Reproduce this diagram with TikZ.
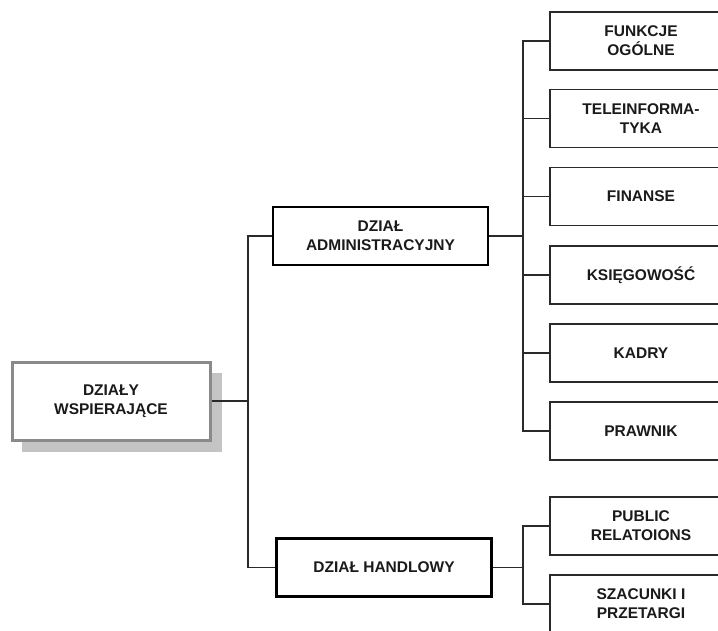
\documentclass[tikz,border=0pt]{standalone}
\usepackage{fontspec}
\setmainfont{Liberation Sans}
\definecolor{lineclr}{HTML}{2A2A2A}
\definecolor{txtclr}{HTML}{1A1A1A}
\definecolor{rootborder}{HTML}{8A8A8A}
\definecolor{shadowclr}{HTML}{C4C4C4}
\tikzset{
  lbl/.style={font=\fontsize{15.5}{19}\selectfont\bfseries, text=txtclr, align=center, inner sep=0pt},
  rootbox/.style={lbl, draw=rootborder, line width=3pt, fill=white, minimum width=198pt, minimum height=78pt},
  midbox/.style={lbl, draw=black, line width=2.8pt, fill=white, minimum width=215pt, minimum height=58pt},
  leafbox/.style={lbl, draw=lineclr, line width=1.8pt, fill=white, minimum width=182pt, minimum height=58pt},
  conn/.style={draw=lineclr, line width=1.5pt},
}
\begin{document}
\begin{tikzpicture}[x=1pt,y=-1pt]
\useasboundingbox (0,0) rectangle (718,630);
% root shadow
\fill[shadowclr] (22,373) rectangle (222,452);
\node[rootbox] (root) at (111,401) {DZIAŁY\\WSPIERAJĄCE};
\node[midbox] (adm) at (380.5,236) {DZIAŁ\\ADMINISTRACYJNY};
\node[midbox] (han) at (384,567.5) {DZIAŁ HANDLOWY};
% leaves of adm
\node[leafbox] (l1) at (641,41) {FUNKCJE\\OGÓLNE};
\node[leafbox] (l2) at (641,118.5) {TELEINFORMA-\\TYKA};
\node[leafbox] (l3) at (641,196.5) {FINANSE};
\node[leafbox] (l4) at (641,275) {KSIĘGOWOŚĆ};
\node[leafbox] (l5) at (641,353) {KADRY};
\node[leafbox] (l6) at (641,431) {PRAWNIK};
% leaves of han
\node[leafbox] (h1) at (641,526) {PUBLIC\\RELATOIONS};
\node[leafbox] (h2) at (641,604) {SZACUNKI I\\PRZETARGI};
% junctions
\coordinate (j0) at (248,401);
\coordinate (j1) at (523,236);
\coordinate (j2) at (523,567.5);
% connectors root
\draw[conn] (root.east) -- (j0);
\draw[conn] (adm.west) -| (j0) |- (han.west);
% adm connectors
\draw[conn] (adm.east) -- (j1);
\draw[conn] (l1.west) -| (j1);
\draw[conn] (l6.west) -| (j1);
\foreach \n in {l2,l3,l4,l5}{\draw[conn] (\n.west) -- (\n.west -| j1);}
% han connectors
\draw[conn] (han.east) -- (j2);
\draw[conn] (h1.west) -| (j2) |- (h2.west);
\end{tikzpicture}
\end{document}
